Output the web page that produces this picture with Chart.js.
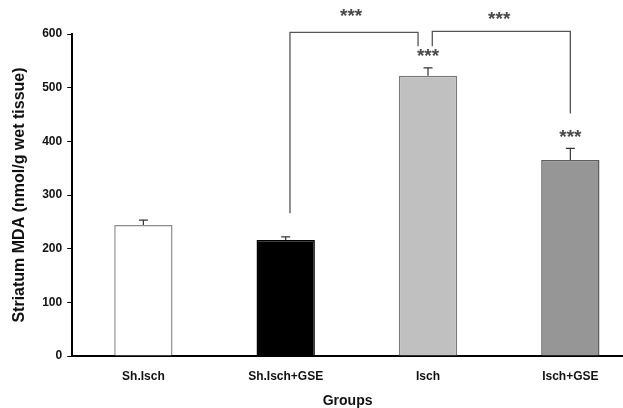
<!DOCTYPE html>
<html>
<head>
<meta charset="utf-8">
<script src="https://cdn.jsdelivr.net/npm/chart.js@4.4.0/dist/chart.umd.min.js"></script>
<style>
  html, body { margin: 0; padding: 0; background: #fff; }
  #wrap { width: 623px; height: 408px; }
</style>
</head>
<body>
<div id="wrap"><canvas id="mdaChart"></canvas></div>
<script>
'use strict';

// valeurs
const groups = ['Sh.Isch', 'Sh.Isch+GSE', 'Isch', 'Isch+GSE'];
const mdaMeans = [244, 216, 522, 365];
const mdaErrors = [9, 6, 15, 22];
const barColors = ['#ffffff', '#000000', '#c0c0c0', '#969696'];
const barBorders = ['#8c8c8c', '#000000', '#7a7a7a', '#5f5f5f'];
const yTicks = [0, 100, 200, 300, 400, 500, 600];

// crochets de comparaison : [x gauche, y bas gauche, y haut, x droite, y bas droite]
const brackets = [
    [1.03, 266, 603, 1.93, 577],
    [2.03, 577, 605, 3.0, 452]
];
// étoiles : [x, y]
const stars = [[1.46, 641], [2.5, 636], [2.0, 567], [3.0, 416]];

const annotPlugin = {
    id: 'annot',
    afterDatasetsDraw(chart) {
        const ctx = chart.ctx;
        const xs = chart.scales.x, ys = chart.scales.y;
        ctx.save();
        // barres d'erreur (vers le haut seulement)
        ctx.strokeStyle = '#333';
        ctx.lineWidth = 1.2;
        mdaMeans.forEach(function(v, i){
            const px = xs.getPixelForValue(i);
            const top = ys.getPixelForValue(v + mdaErrors[i]);
            ctx.beginPath();
            ctx.moveTo(px, ys.getPixelForValue(v));
            ctx.lineTo(px, top);
            ctx.moveTo(px - 4.5, top);
            ctx.lineTo(px + 4.5, top);
            ctx.stroke();
        });
        // crochets
        ctx.strokeStyle = '#555';
        ctx.lineWidth = 1.3;
        brackets.forEach(function(b){
            ctx.beginPath();
            ctx.moveTo(xs.getPixelForValue(b[0]), ys.getPixelForValue(b[1]));
            ctx.lineTo(xs.getPixelForValue(b[0]), ys.getPixelForValue(b[2]));
            ctx.lineTo(xs.getPixelForValue(b[3]), ys.getPixelForValue(b[2]));
            ctx.lineTo(xs.getPixelForValue(b[3]), ys.getPixelForValue(b[4]));
            ctx.stroke();
        });
        ctx.fillStyle = '#4a4a4a';
        ctx.font = 'bold 19px "Liberation Sans", Arial, sans-serif';
        ctx.textAlign = 'center';
        ctx.textBaseline = 'middle';
        stars.forEach(function(s){
            ctx.fillText('***', xs.getPixelForValue(s[0]), ys.getPixelForValue(s[1]) + 5);
        });
        ctx.restore();
    }
};

const fontBold = { family: '"Liberation Sans", Arial, sans-serif', weight: 'bold', size: 12, lineHeight: 1 };

new Chart(document.getElementById('mdaChart'), {
    type: 'bar',
    data: {
        datasets: [{
            data: groups.map(function(g, i){ return { x: i, y: mdaMeans[i] }; }),
            backgroundColor: barColors,
            borderColor: barBorders,
            borderWidth: 1.5,
            categoryPercentage: 1,
            barPercentage: 0.41
        }]
    },
    options: {
        responsive: true,
        maintainAspectRatio: false,
        animation: false,
        layout: { padding: { top: 34, right: 0, left: 10, bottom: 0 } },
        plugins: { legend: { display: false }, tooltip: { enabled: false } },
        scales: {
            x: {
                type: 'linear',
                offset: false,
                min: -0.5,
                max: 3.37,
                afterBuildTicks: function(axis){
                    axis.ticks = groups.map(function(g, i){ return { value: i }; });
                },
                ticks: {
                    callback: function(v){ return groups[v]; },
                    color: '#111',
                    font: fontBold,
                    padding: 15,
                    maxRotation: 0,
                    autoSkip: false
                },
                grid: { drawOnChartArea: false, drawTicks: false },
                border: { display: true, color: '#000', width: 2 },
                title: {
                    display: true,
                    text: 'Groups',
                    color: '#111',
                    font: { family: '"Liberation Sans", Arial, sans-serif', weight: 'bold', size: 14, lineHeight: 1 },
                    padding: { top: -4, bottom: 0 }
                }
            },
            y: {
                min: 0,
                max: 600,
                afterBuildTicks: function(axis){
                    axis.ticks = yTicks.map(function(v){ return { value: v }; });
                },
                ticks: { color: '#111', font: fontBold, padding: 5 },
                grid: { drawOnChartArea: false, drawTicks: true, tickLength: 5, color: '#000' },
                border: { display: true, color: '#000', width: 2 },
                title: {
                    display: true,
                    text: 'Striatum MDA (nmol/g wet tissue)',
                    color: '#111',
                    font: { family: '"Liberation Sans", Arial, sans-serif', weight: 'bold', size: 16 },
                    padding: { top: 0, bottom: 8 }
                }
            }
        }
    },
    plugins: [annotPlugin]
});
</script>
</body>
</html>
